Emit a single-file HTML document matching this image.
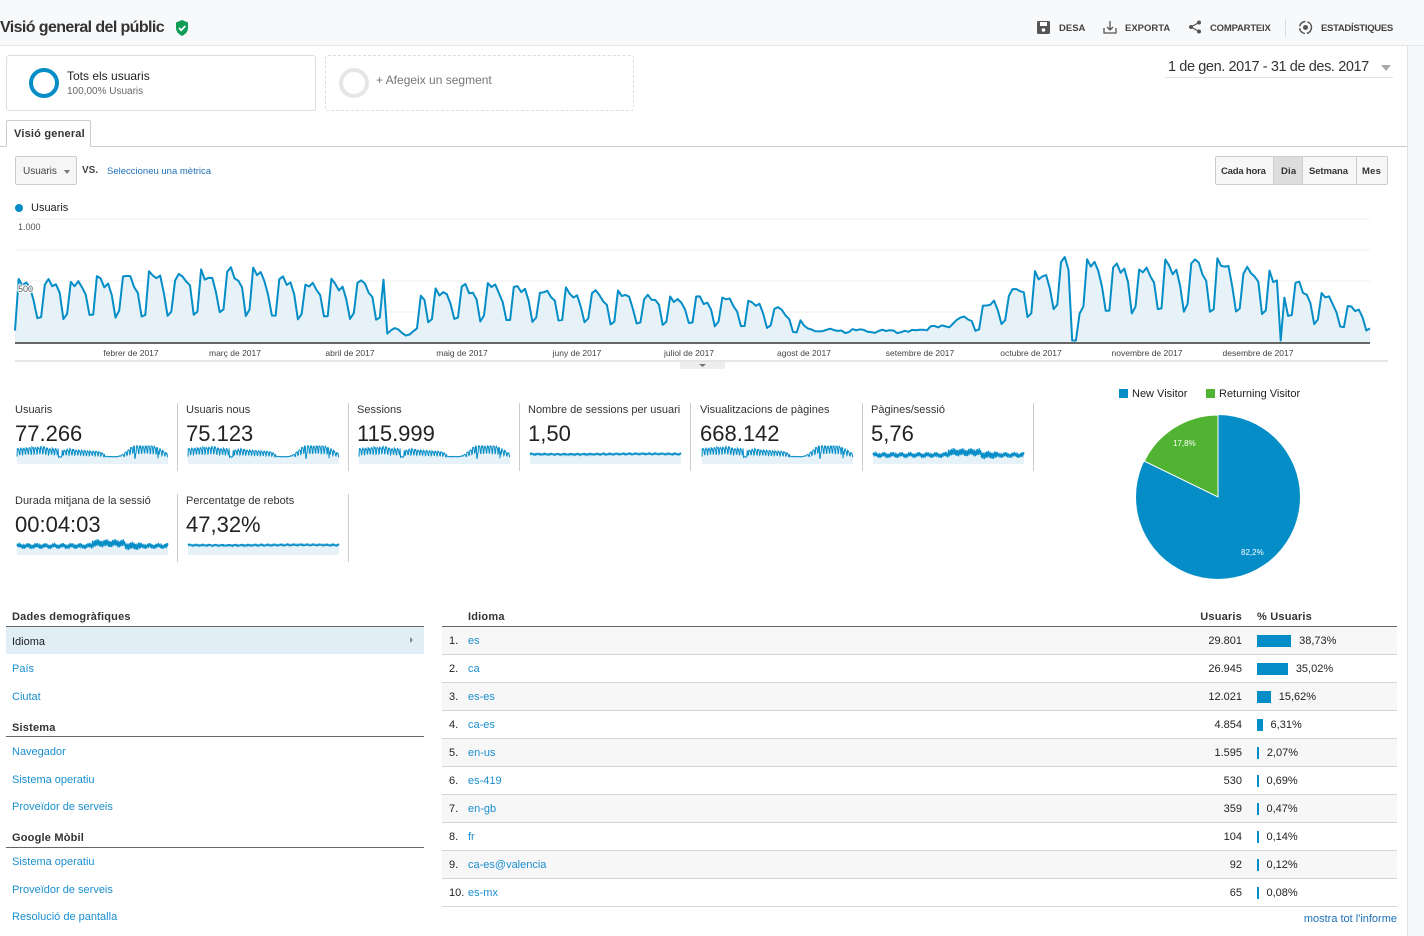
<!DOCTYPE html>
<html><head><meta charset="utf-8"><style>
*{margin:0;padding:0;box-sizing:border-box}
body{width:1424px;height:936px;overflow:hidden;background:#fff;font-family:"Liberation Sans",sans-serif;color:#222;position:relative}
.a{position:absolute;white-space:nowrap}
.lnk{color:#1a8fcf}
.hb{font-size:11px;font-weight:bold;color:#333;letter-spacing:.2px}
.mt{font-size:11px;color:#333}
.mv{font-size:22px;color:#222}
.row{position:absolute;left:442px;width:955px;height:28px;border-bottom:1px solid #d6d6d6;font-size:11px}
.row span{position:absolute;top:8px}
</style></head><body>
<div class="a" style="left:0;top:0;width:1424px;height:46px;background:#f8f9fa;border-bottom:1px solid #e6e6e6"></div>
<div class="a" style="left:1407px;top:46px;width:17px;height:890px;background:#f6f7f8;border-left:1px solid #e2e2e2"></div>
<div class="a" style="left:0;top:19px;font-size:16px;font-weight:bold;color:#333;letter-spacing:-.6px">Visió general del públic</div>
<svg class="a" style="left:175px;top:20px" width="14" height="16" viewBox="0 0 14 16"><path d="M7 0L13 2.5V8C13 12 10 14.5 7 16 4 14.5 1 12 1 8V2.5Z" fill="#0f9d58"/><path d="M4 8l2.2 2.2L10.3 6" stroke="#fff" stroke-width="1.8" fill="none"/></svg>
<svg class="a" style="left:1037px;top:21px" width="13" height="13"><rect x="0" y="0" width="13" height="13" rx="1.5" fill="#555"/><rect x="3" y="1" width="7" height="4" fill="#fff"/><circle cx="6.5" cy="9" r="1.8" fill="#fff"/></svg>
<div class="a hb" style="left:1059px;top:23px;font-size:9.5px;color:#444;letter-spacing:0">DESA</div>
<svg class="a" style="left:1103px;top:20px" width="14" height="14"><path d="M1 8v5h12V8" stroke="#555" fill="none" stroke-width="1.3"/><path d="M7 1v9M4 7l3 3 3-3" stroke="#555" fill="none" stroke-width="1.3"/></svg>
<div class="a hb" style="left:1125px;top:23px;font-size:9.5px;color:#444;letter-spacing:0">EXPORTA</div>
<svg class="a" style="left:1188px;top:20px" width="14" height="14"><circle cx="11" cy="2.5" r="2" fill="#555"/><circle cx="3" cy="7" r="2" fill="#555"/><circle cx="11" cy="11.5" r="2" fill="#555"/><path d="M11 2.5L3 7 11 11.5" stroke="#555" fill="none" stroke-width="1.2"/></svg>
<div class="a hb" style="left:1210px;top:23px;font-size:9.5px;color:#444;letter-spacing:-.2px">COMPARTEIX</div>
<div class="a" style="left:1285px;top:19px;width:1px;height:18px;background:#ddd"></div>
<svg class="a" style="left:1298px;top:20px" width="15" height="15"><circle cx="7.5" cy="7.5" r="6" stroke="#555" stroke-width="1.5" fill="none" stroke-dasharray="8 2"/><circle cx="7.5" cy="7.5" r="2.5" fill="#555"/></svg>
<div class="a hb" style="left:1321px;top:23px;font-size:9.5px;color:#444;letter-spacing:-.3px">ESTADÍSTIQUES</div>

<div class="a" style="left:6px;top:55px;width:310px;height:56px;border:1px solid #ddd;border-radius:3px"></div>
<div class="a" style="left:29px;top:68px;width:30px;height:30px;border:4px solid #058dc7;border-radius:50%"></div>
<div class="a" style="left:67px;top:69px;font-size:12px;color:#222">Tots els usuaris</div>
<div class="a" style="left:67px;top:86px;font-size:10px;color:#666">100,00% Usuaris</div>
<div class="a" style="left:325px;top:55px;width:309px;height:56px;border:1px dashed #ddd;border-radius:3px"></div>
<div class="a" style="left:339px;top:68px;width:30px;height:30px;border:4px solid #e6e6e6;border-radius:50%"></div>
<div class="a" style="left:376px;top:73px;font-size:12px;color:#777">+ Afegeix un segment</div>
<div class="a" style="left:1168px;top:59px;font-size:14.5px;color:#333;letter-spacing:-.4px">1 de gen. 2017 - 31 de des. 2017</div>
<div class="a" style="left:1381px;top:65px;width:0;height:0;border-left:5px solid transparent;border-right:5px solid transparent;border-top:6px solid #aaa"></div>
<div class="a" style="left:1165px;top:77px;width:228px;height:1px;background:#e2e2e2"></div>

<div class="a" style="left:0;top:146px;width:1407px;height:1px;background:#ccc"></div>
<div class="a" style="left:6px;top:120px;width:85px;height:27px;border:1px solid #ccc;border-bottom:1px solid #fff;background:#fff;border-radius:2px 2px 0 0"></div>
<div class="a hb" style="left:14px;top:128px">Visió general</div>

<div class="a" style="left:15px;top:156px;width:62px;height:29px;border:1px solid #ccc;border-radius:2px;background:#f6f6f6"></div>
<div class="a" style="left:23px;top:166px;font-size:10px;color:#444">Usuaris</div>
<div class="a" style="left:64px;top:170px;border-left:3px solid transparent;border-right:3px solid transparent;border-top:4px solid #777"></div>
<div class="a" style="left:82px;top:165px;font-size:10px;font-weight:bold;color:#444">VS.</div>
<div class="a lnk" style="left:107px;top:166px;font-size:9.5px;color:#1c6fb8">Seleccioneu una mètrica</div>

<div class="a" style="left:1215px;top:156px;width:173px;height:29px;border:1px solid #ccc;border-radius:2px;background:#f7f7f7"></div>
<div class="a" style="left:1273px;top:157px;width:30px;height:27px;background:#ddd;border-left:1px solid #ccc;border-right:1px solid #ccc"></div>
<div class="a" style="left:1356px;top:157px;width:1px;height:27px;background:#ccc"></div>
<div class="a hb" style="left:1221px;top:166px;font-size:9.5px;letter-spacing:-.2px">Cada hora</div>
<div class="a hb" style="left:1281px;top:166px;font-size:9.5px">Dia</div>
<div class="a hb" style="left:1309px;top:166px;font-size:9.5px;letter-spacing:-.1px">Setmana</div>
<div class="a hb" style="left:1362px;top:166px;font-size:9.5px">Mes</div>

<div class="a" style="left:15px;top:204px;width:8px;height:8px;border-radius:50%;background:#058dc7"></div>
<div class="a" style="left:31px;top:202px;font-size:11px;color:#222">Usuaris</div>
<svg class="a" style="left:0;top:210px" width="1407" height="165" id="ch"></svg>

<div class="a" style="left:1119px;top:389px;width:9px;height:9px;background:#058dc7"></div>
<div class="a" style="left:1132px;top:388px;font-size:11px">New Visitor</div>
<div class="a" style="left:1206px;top:389px;width:9px;height:9px;background:#50b432"></div>
<div class="a" style="left:1219px;top:388px;font-size:11px">Returning Visitor</div>
<svg class="a" style="left:1130px;top:409px" width="176" height="176"><g transform="translate(-1130,-409)">
<circle cx="1218" cy="497" r="82" fill="#058dc7"/>
<path d="M1218 497L1218 415A82 82 0 0 0 1144.3 461.1Z" fill="#50b432" stroke="#fff" stroke-width="1"/>
<text x="1173" y="446" font-size="8" fill="#fff" font-family="Liberation Sans">17,8%</text>
<text x="1241" y="555" font-size="8" fill="#fff" font-family="Liberation Sans">82,2%</text></g></svg>

<div id="mets"></div>

<div class="a hb" style="left:12px;top:611px">Dades demogràfiques</div>
<div class="a" style="left:6px;top:626px;width:418px;height:1px;background:#666"></div>
<div class="a" style="left:6px;top:627px;width:418px;height:27px;background:#e1eef6"></div>
<div class="a" style="left:12px;top:636px;font-size:11px">Idioma</div>
<div class="a" style="left:410px;top:637px;border-top:3px solid transparent;border-bottom:3px solid transparent;border-left:3px solid #888"></div>
<div class="a lnk" style="left:12px;top:663px;font-size:11px">País</div>
<div class="a lnk" style="left:12px;top:691px;font-size:11px">Ciutat</div>
<div class="a hb" style="left:12px;top:722px">Sistema</div>
<div class="a" style="left:6px;top:736px;width:418px;height:1px;background:#666"></div>
<div class="a lnk" style="left:12px;top:746px;font-size:11px">Navegador</div>
<div class="a lnk" style="left:12px;top:774px;font-size:11px">Sistema operatiu</div>
<div class="a lnk" style="left:12px;top:801px;font-size:11px">Proveïdor de serveis</div>
<div class="a hb" style="left:12px;top:832px">Google Mòbil</div>
<div class="a" style="left:6px;top:847px;width:418px;height:1px;background:#666"></div>
<div class="a lnk" style="left:12px;top:856px;font-size:11px">Sistema operatiu</div>
<div class="a lnk" style="left:12px;top:884px;font-size:11px">Proveïdor de serveis</div>
<div class="a lnk" style="left:12px;top:911px;font-size:11px">Resolució de pantalla</div>

<div class="a hb" style="left:468px;top:611px">Idioma</div>
<div class="a hb" style="left:1190px;top:611px;width:52px;text-align:right">Usuaris</div>
<div class="a hb" style="left:1257px;top:611px">% Usuaris</div>
<div class="a" style="left:442px;top:626px;width:955px;height:1px;background:#666"></div>
<div id="tbl"></div>
<div class="a lnk" style="left:1250px;top:913px;width:147px;text-align:right;font-size:11px;color:#1c6fb8">mostra tot l'informe</div>

<script>
var key=[[0,480],[31,540],[62,590],[75,500],[97,490],[110,420],[125,470],[150,420],[170,380],[190,360],[205,300],[214,110],[240,100],[250,150],[258,250],[270,480],[280,660],[300,620],[320,660],[334,600],[345,470],[358,300],[364,250]];
function peak(d){for(var i=0;i<key.length-1;i++){if(d<=key[i+1][0]){var t=(d-key[i][0])/(key[i+1][0]-key[i][0]);return key[i][1]+t*(key[i+1][1]-key[i][1]);}}return 250;}
var wf=[0.45,1,0.98,0.94,0.9,0.75,0.4];
var data=[];
for(var d=0;d<365;d++){var p=peak(d);var f=wf[d%7];if(d>=214&&d<255)f=0.7+0.3*f;
var v=p*f*(1+0.06*Math.sin(d*2.3)+0.04*Math.sin(d*0.7));
if(d>=100&&d<=108)v=90+30*Math.sin(d);
if(d==284||d==285)v=20; if(d==340)v=20;
if(d==0)v=100;
data.push(v);}
var X=function(d){return 15+d*1355/364},Y=function(v){return 133-0.124*v};
var s='';
[9,40,71,102].forEach(function(y){s+='<line x1="15" x2="1370" y1="'+y+'" y2="'+y+'" stroke="#efefef"/>';});
var pts=data.map(function(v,d){return X(d).toFixed(1)+','+Y(v).toFixed(1)}).join(' ');
s+='<polygon points="15,133 '+pts+' 1370,133" fill="#e6f2f8"/>';
s+='<polyline points="'+pts+'" fill="none" stroke="#058dc7" stroke-width="2" stroke-linejoin="round"/>';
s+='<line x1="15" x2="1370" y1="133" y2="133" stroke="#666" stroke-width="2"/>';
s+='<text x="18" y="20" font-size="9" fill="#555" font-family="Liberation Sans">1.000</text><text x="18" y="82" font-size="9" fill="#555" font-family="Liberation Sans" stroke="#fff" stroke-width="2" paint-order="stroke">500</text>';
var ms=[['febrer de 2017',131],['març de 2017',235],['abril de 2017',350],['maig de 2017',462],['juny de 2017',577],['juliol de 2017',689],['agost de 2017',804],['setembre de 2017',920],['octubre de 2017',1031],['novembre de 2017',1147],['desembre de 2017',1258]];
ms.forEach(function(m){s+='<text x="'+m[1]+'" y="146" font-size="8.5" fill="#444" text-anchor="middle" font-family="Liberation Sans">'+m[0]+'</text>';});
s+='<line x1="15" x2="1388" y1="151" y2="151" stroke="#ccc"/><rect x="680" y="152" width="45" height="7" fill="#eee"/><path d="M699 154h7l-3.5 3z" fill="#777"/>';
document.getElementById('ch').innerHTML=s;

var mets=[['Usuaris','77.266',0,15,403],['Usuaris nous','75.123',0,186,403],['Sessions','115.999',0,357,403],['Nombre de sessions per usuari','1,50',1,528,403],['Visualitzacions de pàgines','668.142',0,700,403],['Pàgines/sessió','5,76',2,871,403],['Durada mitjana de la sessió','00:04:03',2,15,494],['Percentatge de rebots','47,32%',1,186,494]];
var h='';
mets.forEach(function(m,i){var x=m[3],y=m[4];
h+='<div class="a mt" style="left:'+x+'px;top:'+(y+1)+'px;width:162px;overflow:hidden">'+m[0]+'</div>';
h+='<div class="a mv" style="left:'+x+'px;top:'+(y+18)+'px">'+m[1]+'</div>';
h+='<div class="a" style="left:'+(x+162)+'px;top:'+y+'px;width:1px;height:68px;background:#ccc"></div>';
var w=151,top=y+43,hh=18,p='';
for(var d=0;d<365;d+=1){var v;
if(m[2]==0)v=Math.min(1,0.3+data[d]/900);else if(m[2]==1)v=0.55+0.04*Math.sin(d*2.1)+0.02*Math.sin(d*0.4);else v=0.5+0.12*Math.sin(d*1.7)*(d>180&&d<300?1.6:1)+(d>180&&d<260?0.15:0)+0.05*Math.sin(d*0.3);
p+=(x+2+d*w/364).toFixed(1)+','+(top+hh-v*hh).toFixed(1)+' ';}
h+='<svg class="a" style="left:0;top:0" width="1100" height="600"><polygon points="'+(x+2)+','+(top+hh)+' '+p+(x+2+w)+','+(top+hh)+'" fill="#e6f2f8"/><polyline points="'+p+'" fill="none" stroke="#058dc7" stroke-width="1"/></svg>';
});
document.getElementById('mets').innerHTML=h;

var rows=[['es','29.801',38.73,'38,73%'],['ca','26.945',35.02,'35,02%'],['es-es','12.021',15.62,'15,62%'],['ca-es','4.854',6.31,'6,31%'],['en-us','1.595',2.07,'2,07%'],['es-419','530',0.69,'0,69%'],['en-gb','359',0.47,'0,47%'],['fr','104',0.14,'0,14%'],['ca-es@valencia','92',0.12,'0,12%'],['es-mx','65',0.08,'0,08%']];
var t='';
rows.forEach(function(r,i){var y=627+i*28;var bw=Math.max(1.5,r[2]*0.88);
t+='<div class="row" style="top:'+y+'px;background:'+(i%2==0?'#f7f7f7':'#fff')+'"><span style="left:7px">'+(i+1)+'.</span><span class="lnk" style="left:26px">'+r[0]+'</span><span style="left:700px;width:100px;text-align:right">'+r[1]+'</span>'+
'<div style="position:absolute;left:815px;top:8px;width:'+bw+'px;height:12px;background:#058dc7"></div><span style="left:'+(815+bw+8)+'px">'+r[3]+'</span></div>';});
document.getElementById('tbl').innerHTML=t;
</script>
</body></html>
